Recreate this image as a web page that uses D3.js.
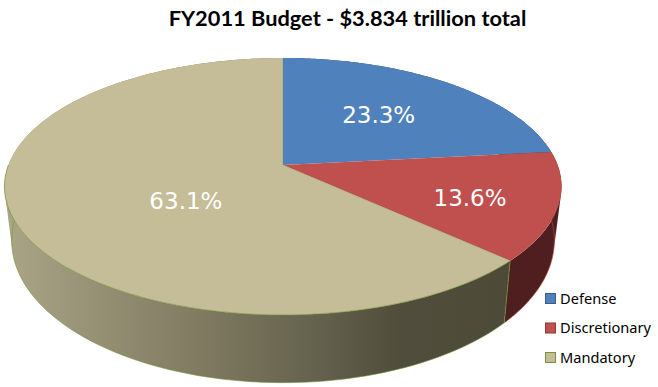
<!DOCTYPE html>
<html>
<head>
<meta charset="utf-8">
<script src="https://cdn.jsdelivr.net/npm/d3@7"></script>
<style>
    html, body { margin: 0; padding: 0; background: #fff; }
    svg { display: block; }
</style>
</head>
<body>
<div id="chart"></div>
<script>
const title = "FY2011 Budget - $3.834 trillion total";
const categories = ["Defense", "Discretionary", "Mandatory"];
const shares = [23.3, 13.6, 63.1];

const faceColors = ["#4f81bd", "#c0504d", "#c4bd97"];
const edgeColors = ["#4f81bd", "#c0504d", "#76923c"];
const swatchBorders = ["#385d8a", "#8c3836", "#76923c"];

const width = 658, height = 387;
const cx = 283;

// perspective disc: apex is not at the centre of the ellipse
const topDisc = { cy: 165, rx: 274.6, ry: 124.9, k: 0.167 };
const baseDisc = { cy: 217, rx: 267.5, ry: 138, k: 0.167 };

// label placement, as a fraction of the way from apex to the rim at mid angle
const labelFracX = [0.586, 0.68, 0.36];
const labelFracY = [0.605, 0.79, 0.667];

function project(disc, a) {
    const u = Math.sin(a), v = -Math.cos(a);
    const w = 1 - disc.k * v;
    return [cx + disc.rx * u / w, disc.cy + disc.ry * v / w];
}

function rim(disc, a0, a1, n = 120) {
    return d3.range(0, n + 1).map(i => project(disc, a0 + (a1 - a0) * i / n));
}

const svg = d3.select("#chart")
    .append("svg")
    .attr("width", width)
    .attr("height", height);

const defs = svg.append("defs");

// walls get darker going left to right, flat from about x=400 on
const wallGrad = defs.append("linearGradient")
    .attr("id", "wall-mandatory")
    .attr("gradientUnits", "userSpaceOnUse")
    .attr("x1", 5).attr("x2", 510).attr("y1", 0).attr("y2", 0);
wallGrad.append("stop").attr("offset", "0").attr("stop-color", "#aaa587");
wallGrad.append("stop").attr("offset", "0.39").attr("stop-color", "#7f7a60");
wallGrad.append("stop").attr("offset", "0.6").attr("stop-color", "#66634f");
wallGrad.append("stop").attr("offset", "0.78").attr("stop-color", "#504d3c");
wallGrad.append("stop").attr("offset", "1").attr("stop-color", "#4d4a38");

const wallFill = ["#2c4a6e", "#4f1f1f", "url(#wall-mandatory)"];

const arcs = d3.pie().sort(null).value(d => d)(shares);
const line = d3.line();

// walls first, the top face covers whatever is behind
// one path of quads, all wound the same way, so the sweep fills the straight
// silhouette at both sides without seams
const walls = svg.append("g").attr("id", "walls");
arcs.forEach((d, i) => {
    const outer = rim(topDisc, d.startAngle, d.endAngle);
    const inner = rim(baseDisc, d.startAngle, d.endAngle);
    const quads = d3.range(0, outer.length - 1).map(j => {
        const q = [outer[j], outer[j + 1], inner[j + 1], inner[j]];
        if (d3.polygonArea(q) < 0) q.reverse();
        return line(q) + "Z";
    });
    walls.append("path")
        .attr("d", quads.join(""))
        .attr("fill", wallFill[i])
        .attr("fill-rule", "nonzero");
    walls.append("path")
        .attr("d", line(inner))
        .attr("fill", "none")
        .attr("stroke", edgeColors[i])
        .attr("stroke-width", 0.6);
});

// edge between the mandatory and discretionary walls
const mandatory = arcs[2];
walls.append("path")
    .attr("d", line([project(topDisc, mandatory.startAngle), project(baseDisc, mandatory.startAngle)]))
    .attr("fill", "none")
    .attr("stroke", edgeColors[2])
    .attr("stroke-width", 0.7);

const faces = svg.append("g").attr("id", "faces");
arcs.forEach((d, i) => {
    const pts = rim(topDisc, d.startAngle, d.endAngle);
    faces.append("path")
        .attr("d", line([[cx, topDisc.cy]].concat(pts)) + "Z")
        .attr("fill", faceColors[i]);
});

// thin olive outline of the mandatory slice, only along the front of the rim
const apex = [cx, topDisc.cy];
faces.append("path")
    .attr("d", line(rim(topDisc, mandatory.startAngle, 1.5 * Math.PI)))
    .attr("fill", "none")
    .attr("stroke", edgeColors[2])
    .attr("stroke-width", 0.7);
faces.append("path")
    .attr("d", line([project(topDisc, mandatory.startAngle), apex, project(topDisc, mandatory.endAngle)]))
    .attr("fill", "none")
    .attr("stroke", edgeColors[2])
    .attr("stroke-opacity", 0.5)
    .attr("stroke-width", 0.7);

svg.append("g").attr("id", "labels")
    .selectAll("text")
    .data(arcs)
    .join("text")
    .attr("x", (d, i) => {
        const p = project(topDisc, (d.startAngle + d.endAngle) / 2);
        return cx + (p[0] - cx) * labelFracX[i];
    })
    .attr("y", (d, i) => {
        const p = project(topDisc, (d.startAngle + d.endAngle) / 2);
        return topDisc.cy + (p[1] - topDisc.cy) * labelFracY[i] + 8;
    })
    .attr("text-anchor", "middle")
    .attr("font-family", "'DejaVu Sans', sans-serif")
    .attr("font-size", "23px")
    .attr("fill", "#fff")
    .text(d => d.data.toFixed(1) + "%");

svg.append("text")
    .attr("id", "title")
    .attr("x", 347.5)
    .attr("y", 26)
    .attr("text-anchor", "middle")
    .attr("font-family", "Lato, sans-serif")
    .attr("font-weight", "bold")
    .attr("font-size", "21.8px")
    .attr("fill", "#000")
    .text(title);

// legend
const legendY = d3.scalePoint().domain(categories).range([298.5, 357.5]);
const legend = svg.append("g").attr("id", "legend")
    .selectAll("g")
    .data(categories)
    .join("g")
    .attr("transform", d => `translate(545.5, ${legendY(d)})`);

legend.append("rect")
    .attr("x", 0)
    .attr("y", -5)
    .attr("width", 10)
    .attr("height", 10)
    .attr("fill", (d, i) => faceColors[i])
    .attr("stroke", (d, i) => swatchBorders[i]);

legend.append("text")
    .attr("x", 14.5)
    .attr("y", 5)
    .attr("font-family", "'Noto Sans', sans-serif")
    .attr("font-size", "14.6px")
    .attr("fill", "#000")
    .text(d => d);
</script>
</body>
</html>
